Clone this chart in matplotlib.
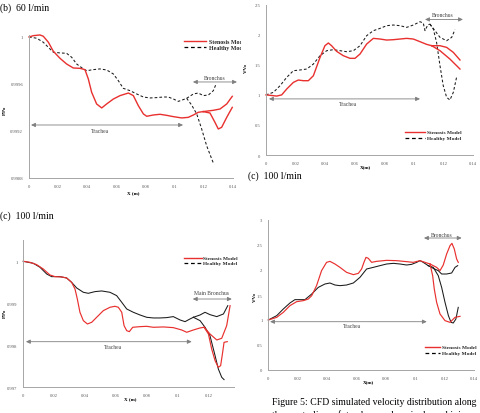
import matplotlib
matplotlib.use("Agg")
import matplotlib.pyplot as plt
from matplotlib.lines import Line2D
from matplotlib.transforms import Bbox

W, H = 480, 414
RED = "#e8302e"
GREY = "#a6a6a6"
TXT = "#595959"
SERIF = ["Liberation Serif", "DejaVu Serif"]

# ---- panel (b) 60 l/min, pressure P/Po ----
A_STEN_X = [0, 0.0030, 0.0075, 0.0098, 0.0133, 0.0167, 0.0213, 0.0258, 0.0304, 0.0350, 0.0384,
            0.0407, 0.0430, 0.0464, 0.0499, 0.0533, 0.0579, 0.0625, 0.0682, 0.0716, 0.0750,
            0.0785, 0.0808, 0.0853, 0.0899, 0.0945, 0.0991, 0.1048, 0.1093, 0.1128, 0.1162, 0.1196]
A_STEN_Y = [1.0, 1.000011, 1.000017, 1.000006, 0.999955, 0.999878, 0.999818, 0.999770, 0.999736,
            0.999733, 0.999722, 0.999643, 0.999529, 0.999430, 0.999396, 0.999430, 0.999472,
            0.999501, 0.999523, 0.999501, 0.999416, 0.999345, 0.999325, 0.999336, 0.999342,
            0.999333, 0.999322, 0.999311, 0.999316, 0.999336, 0.999359, 0.999365]
A_STEN_B1_X = [0.1196, 0.1242, 0.1276, 0.1299, 0.1322, 0.1357, 0.1395]
A_STEN_B1_Y = [0.999365, 0.999353, 0.999274, 0.999217, 0.999231, 0.999316, 0.999401]
A_STEN_B2_X = [0.1196, 0.1265, 0.1311, 0.1357, 0.1395]
A_STEN_B2_Y = [0.999365, 0.999376, 0.999387, 0.999430, 0.999495]

A_HEAL_X = [0, 0.0053, 0.0098, 0.0144, 0.0167, 0.0213, 0.0258, 0.0293, 0.0327, 0.0373, 0.0396,
            0.0442, 0.0487, 0.0533, 0.0579, 0.0613, 0.0647, 0.0693, 0.0739, 0.0785, 0.0830,
            0.0876, 0.0922, 0.0956, 0.0991, 0.1025, 0.1059, 0.1082]
A_HEAL_Y = [1.0, 0.999989, 0.999955, 0.999898, 0.999870, 0.999864, 0.999861, 0.999827, 0.999770,
            0.999728, 0.999713, 0.999722, 0.999728, 0.999719, 0.999685, 0.999628, 0.999563,
            0.999543, 0.999515, 0.999489, 0.999481, 0.999484, 0.999489, 0.999489, 0.999472,
            0.999452, 0.999467, 0.999478]
A_HEAL_B1_X = [0.1082, 0.1128, 0.1162, 0.1196, 0.1231, 0.1265, 0.1281]
A_HEAL_B1_Y = [0.999478, 0.999515, 0.999523, 0.999501, 0.999506, 0.999543, 0.999591]
A_HEAL_B2_X = [0.1082, 0.1116, 0.1151, 0.1185, 0.1219, 0.1254, 0.1265]
A_HEAL_B2_Y = [0.999478, 0.999421, 0.999345, 0.999217, 0.999075, 0.998962, 0.998928]

# ---- top right, velocity V/Vo ----
B_STEN_X = [0, 0.0038, 0.0072, 0.0106, 0.0140, 0.0185, 0.0218, 0.0252, 0.0286, 0.0320, 0.0365,
            0.0398, 0.0421, 0.0443, 0.0477, 0.0522, 0.0567, 0.0601, 0.0635, 0.0680, 0.0725,
            0.0770, 0.0815, 0.0860, 0.0905, 0.0950, 0.0995, 0.1040, 0.1085, 0.1119]
B_STEN_Y = [1.0, 0.99, 0.98, 1.0, 1.098, 1.208, 1.247, 1.236, 1.236, 1.319, 1.624, 1.818, 1.863,
            1.818, 1.724, 1.652, 1.608, 1.608, 1.680, 1.846, 1.940, 1.929, 1.912, 1.918, 1.929,
            1.940, 1.929, 1.885, 1.840, 1.818]
B_STEN_B1_X = [0.1119, 0.1175, 0.1220, 0.1265, 0.1310]
B_STEN_B1_Y = [1.818, 1.818, 1.790, 1.707, 1.580]
B_STEN_B2_X = [0.1119, 0.1175, 0.1242, 0.1310]
B_STEN_B2_Y = [1.818, 1.735, 1.596, 1.430]

B_HEAL_X = [0, 0.0050, 0.0095, 0.0140, 0.0185, 0.0230, 0.0275, 0.0320, 0.0365, 0.0410, 0.0455,
            0.0500, 0.0545, 0.0590, 0.0635, 0.0680, 0.0725, 0.0770, 0.0815, 0.0860, 0.0905,
            0.0950, 0.0995, 0.1040, 0.1062, 0.1074, 0.1092, 0.1107]
B_HEAL_Y = [1.0, 1.042, 1.153, 1.292, 1.402, 1.414, 1.430, 1.513, 1.652, 1.735, 1.752, 1.735,
            1.718, 1.735, 1.818, 1.985, 2.068, 2.106, 2.151, 2.162, 2.151, 2.123, 2.162, 2.217,
            2.195, 2.068, 2.162, 2.178]
B_HEAL_B1_X = [0.1107, 0.1141, 0.1175, 0.1220, 0.1254, 0.1276]
B_HEAL_B1_Y = [2.178, 2.068, 1.957, 1.901, 1.957, 2.084]
B_HEAL_B2_X = [0.1107, 0.1130, 0.1152, 0.1175, 0.1197, 0.1220, 0.1242, 0.1265, 0.1287]
B_HEAL_B2_Y = [2.178, 2.095, 1.874, 1.486, 1.153, 0.959, 0.915, 1.042, 1.292]

# ---- (c) 100 l/min, pressure P/Po ----
C_STEN_X = [0, 0.0043, 0.0086, 0.0129, 0.0172, 0.0205, 0.0248, 0.0280, 0.0312, 0.0334, 0.0349,
            0.0366, 0.0388, 0.0414, 0.0442, 0.0474, 0.0517, 0.0560, 0.0592, 0.0614, 0.0636,
            0.0651, 0.0668, 0.0685, 0.0707, 0.0754, 0.0797, 0.0840, 0.0905, 0.0969, 0.1023,
            0.1056, 0.1099, 0.1142, 0.1168]
C_STEN_Y = [1.0, 0.999976, 0.999921, 0.999817, 0.999675, 0.999635, 0.999627, 0.999603, 0.999500,
            0.999341, 0.999103, 0.998786, 0.998587, 0.998508, 0.998548, 0.998667, 0.998825,
            0.998905, 0.998929, 0.998905, 0.998786, 0.998468, 0.998349, 0.998325, 0.998429,
            0.998444, 0.998452, 0.998429, 0.998437, 0.998421, 0.998365, 0.998310, 0.998365,
            0.998413, 0.998429]
C_STEN_B1_X = [0.1168, 0.1206, 0.1250, 0.1282, 0.1314, 0.1336]
C_STEN_B1_Y = [0.998429, 0.998270, 0.998127, 0.998167, 0.998468, 0.998944]
C_STEN_B2_X = [0.1168, 0.1196, 0.1217, 0.1239, 0.1260, 0.1275, 0.1288, 0.1297, 0.1318]
C_STEN_B2_Y = [0.998429, 0.998270, 0.997913, 0.997635, 0.997476, 0.997516, 0.997833, 0.998071,
               0.998087]

C_HEAL_X = [0, 0.0065, 0.0108, 0.0151, 0.0183, 0.0237, 0.0280, 0.0312, 0.0345, 0.0388, 0.0420,
            0.0463, 0.0506, 0.0560, 0.0603, 0.0636, 0.0668, 0.0711, 0.0754, 0.0797, 0.0840,
            0.0883, 0.0926, 0.0969, 0.1013, 0.1045, 0.1077, 0.1099]
C_HEAL_Y = [1.0, 0.999952, 0.999857, 0.999698, 0.999635, 0.999635, 0.999603, 0.999500, 0.999365,
            0.999262, 0.999238, 0.999278, 0.999294, 0.999262, 0.999183, 0.999024, 0.998865,
            0.998786, 0.998722, 0.998667, 0.998651, 0.998651, 0.998659, 0.998683, 0.998603,
            0.998563, 0.998627, 0.998667]
C_HEAL_B1_X = [0.1099, 0.1142, 0.1174, 0.1206, 0.1250, 0.1293, 0.1321]
C_HEAL_B1_Y = [0.998667, 0.998722, 0.998786, 0.998730, 0.998683, 0.998746, 0.998944]
C_HEAL_B2_X = [0.1099, 0.1142, 0.1174, 0.1206, 0.1239, 0.1260, 0.1282, 0.1297]
C_HEAL_B2_Y = [0.998667, 0.998587, 0.998429, 0.998230, 0.997754, 0.997437, 0.997238, 0.997183]

# ---- bottom right, velocity V/Vo ----
D_STEN_X = [0, 0.0057, 0.0102, 0.0147, 0.0193, 0.0238, 0.0272, 0.0295, 0.0328, 0.0362, 0.0396,
            0.0419, 0.0453, 0.0487, 0.0532, 0.0578, 0.0612, 0.0634, 0.0650, 0.0664, 0.0680,
            0.0702, 0.0736, 0.0804, 0.0872, 0.0940, 0.0985, 0.1031, 0.1065, 0.1099]
D_STEN_Y = [1.0, 1.053, 1.153, 1.287, 1.367, 1.387, 1.420, 1.487, 1.687, 1.987, 2.153, 2.173,
            2.120, 2.053, 1.953, 1.907, 1.933, 2.020, 2.153, 2.253, 2.233, 2.153, 2.173, 2.193,
            2.187, 2.167, 2.153, 2.187, 2.153, 2.120]
D_STEN_B1_X = [0.1099, 0.1144, 0.1167, 0.1189, 0.1212, 0.1235, 0.1248, 0.1264, 0.1280, 0.1291]
D_STEN_B1_Y = [2.120, 2.053, 1.987, 2.100, 2.320, 2.487, 2.533, 2.420, 2.220, 2.153]
D_STEN_B2_X = [0.1099, 0.1117, 0.1128, 0.1144, 0.1167, 0.1201, 0.1235, 0.1269, 0.1303]
D_STEN_B2_Y = [2.120, 1.887, 1.620, 1.353, 1.120, 0.987, 0.953, 1.053, 1.073]

D_HEAL_X = [0, 0.0057, 0.0102, 0.0147, 0.0181, 0.0215, 0.0249, 0.0295, 0.0340, 0.0385, 0.0419,
            0.0453, 0.0487, 0.0532, 0.0578, 0.0623, 0.0668, 0.0714, 0.0759, 0.0804, 0.0850,
            0.0895, 0.0940, 0.0974, 0.1008, 0.1031, 0.1053, 0.1087]
D_HEAL_Y = [1.0, 1.087, 1.220, 1.340, 1.407, 1.407, 1.407, 1.520, 1.653, 1.720, 1.740, 1.700,
            1.687, 1.700, 1.740, 1.853, 2.020, 2.053, 2.087, 2.120, 2.133, 2.120, 2.100, 2.113,
            2.153, 2.187, 2.153, 2.087]
D_HEAL_B1_X = [0.1087, 0.1121, 0.1155, 0.1178, 0.1212, 0.1246, 0.1269, 0.1287]
D_HEAL_B1_Y = [2.087, 2.033, 1.987, 1.920, 1.920, 1.940, 2.053, 2.087]
D_HEAL_B2_X = [0.1087, 0.1121, 0.1155, 0.1178, 0.1201, 0.1224, 0.1242, 0.1257, 0.1275, 0.1291]
D_HEAL_B2_Y = [2.087, 2.053, 1.887, 1.653, 1.353, 1.087, 0.953, 0.940, 1.020, 1.253]

A_XTICKS = [0, 0.02, 0.04, 0.06, 0.08, 0.1, 0.12, 0.14]
A_YTICKS = [0.9988, 0.9992, 0.9996, 1]
B_YTICKS = [0, 0.5, 1, 1.5, 2, 2.5]
C_XTICKS = [0, 0.02, 0.04, 0.06, 0.08, 0.1, 0.12]
C_YTICKS = [0.997, 0.998, 0.999, 1]
D_YTICKS = [0, 0.5, 1, 1.5, 2, 2.5, 3]


def box(left, top, right, bottom):
    return [left / W, 1 - bottom / H, (right - left) / W, (bottom - top) / H]


def fx(px):
    return px / W


def fy(py):
    return 1 - py / H


def fmt(v):
    s = f"{v:.4f}".rstrip("0").rstrip(".")
    return s


def make_axes(fig, rect, xlim, ylim, xticks, yticks):
    ax = fig.add_axes(rect)
    ax.set_xlim(*xlim)
    ax.set_ylim(*ylim)
    for s in ["top", "right"]:
        ax.spines[s].set_visible(False)
    for s in ["left", "bottom"]:
        ax.spines[s].set_color(GREY)
        ax.spines[s].set_linewidth(0.7)
    ax.set_xticks(xticks)
    ax.set_yticks(yticks)
    ax.set_xticklabels([fmt(t) for t in xticks], family=SERIF, fontsize=3.3, color=TXT)
    ax.set_yticklabels([fmt(t) for t in yticks], family=SERIF, fontsize=3.3, color=TXT)
    ax.tick_params(length=0, pad=4.2)
    ax.patch.set_alpha(0)
    return ax


def draw(ax, segs, color, dashed, lw):
    for xs, ys in segs:
        if dashed:
            ax.plot(xs, ys, color=color, lw=lw, dashes=(2.6, 2.0), clip_on=False)
        else:
            ax.plot(xs, ys, color=color, lw=lw, clip_on=False)


def arrow(ax, x0, x1, y, label, tx, ty):
    ax.annotate("", xy=(x1, y), xytext=(x0, y), annotation_clip=False,
                arrowprops=dict(arrowstyle="<|-|>,head_length=0.25,head_width=0.12",
                                color="#7f7f7f", lw=0.6, shrinkA=0, shrinkB=0))
    ax.text(tx, ty, label, family=SERIF, fontsize=4.1, color="#404040",
            ha="center", va="center")


def legend(fig, x0, x1, y_red, y_blk, tx, size=3.9, clip=None):
    fig.add_artist(Line2D([fx(x0), fx(x1)], [fy(y_red), fy(y_red)], color=RED, lw=1.0))
    fig.add_artist(Line2D([fx(x0), fx(x1)], [fy(y_blk), fy(y_blk)], color="black",
                          lw=0.9, dashes=(3.0, 2.2)))
    for y, lab in [(y_red, "Stenosis Model"), (y_blk, "Healthy Model")]:
        t = fig.text(fx(tx), fy(y), lab, family=SERIF, fontsize=size, weight="bold",
                     color="#262626", va="center", ha="left")
        if clip is not None:
            t.set_clip_box(Bbox([[0, 0], [clip, H]]))
            t.set_clip_on(True)


fig = plt.figure(figsize=(W / 100, H / 100), dpi=100)
fig.patch.set_facecolor("white")

# panel (b) 60 l/min pressure
axA = make_axes(fig, box(29, 35.6, 233, 179), (0, 0.14), (0.9988, 1.00002), A_XTICKS, A_YTICKS)
draw(axA, [(A_HEAL_X, A_HEAL_Y), (A_HEAL_B1_X, A_HEAL_B1_Y), (A_HEAL_B2_X, A_HEAL_B2_Y)],
     "#1a1a1a", True, 0.75)
draw(axA, [(A_STEN_X, A_STEN_Y), (A_STEN_B1_X, A_STEN_B1_Y), (A_STEN_B2_X, A_STEN_B2_Y)],
     RED, False, 1.0)
arrow(axA, 0.1125, 0.1427, 0.999617, "Bronchus", 0.1276, 0.999655)
arrow(axA, 0.0014, 0.1057, 0.999251, "Trachea", 0.0487, 0.999205)
legend(fig, 184, 206, 42.3, 48.3, 209, size=4.3, clip=240.5)
fig.text(fx(5), fy(110), "P/Po", family=SERIF, fontsize=3.3, weight="bold",
         rotation=90, ha="center", va="center")
fig.text(fx(133), fy(193.5), "X (m)", family=SERIF, fontsize=3.6, weight="bold",
         ha="center", va="center")
fig.text(0.0, fy(8), "(b)  60 l/min", family=SERIF, fontsize=7, ha="left", va="center")

# top right velocity
axB = make_axes(fig, box(266, 5.7, 473.3, 156), (0, 0.14), (0, 2.5), A_XTICKS, B_YTICKS)
draw(axB, [(B_HEAL_X, B_HEAL_Y), (B_HEAL_B1_X, B_HEAL_B1_Y), (B_HEAL_B2_X, B_HEAL_B2_Y)],
     "#1a1a1a", True, 0.75)
draw(axB, [(B_STEN_X, B_STEN_Y), (B_STEN_B1_X, B_STEN_B1_Y), (B_STEN_B2_X, B_STEN_B2_Y)],
     RED, False, 1.0)
arrow(axB, 0.1074, 0.1330, 2.255, "Bronchus", 0.1195, 2.34)
arrow(axB, 0.0020, 0.1040, 0.933, "Trachea", 0.0554, 0.855)
legend(fig, 405, 425, 133.3, 138.6, 427)
fig.text(fx(246), fy(68), "V/Vo", family=SERIF, fontsize=3.3, weight="bold",
         rotation=90, ha="center", va="center")
fig.text(fx(365), fy(167.5), "X(m)", family=SERIF, fontsize=3.6, weight="bold",
         ha="center", va="center")
fig.text(fx(248), fy(176), "(c)  100 l/min", family=SERIF, fontsize=7, ha="left", va="center")

# panel (c) 100 l/min pressure
axC = make_axes(fig, box(23.3, 241.3, 233.8, 388.3), (0, 0.136), (0.997, 1.0005),
                C_XTICKS, C_YTICKS)
draw(axC, [(C_HEAL_X, C_HEAL_Y), (C_HEAL_B1_X, C_HEAL_B1_Y), (C_HEAL_B2_X, C_HEAL_B2_Y)],
     "#1a1a1a", False, 0.75)
draw(axC, [(C_STEN_X, C_STEN_Y), (C_STEN_B1_X, C_STEN_B1_Y), (C_STEN_B2_X, C_STEN_B2_Y)],
     RED, False, 0.85)
arrow(axC, 0.1095, 0.1347, 0.999102, "Main Bronchus", 0.1219, 0.99925)
arrow(axC, 0.0017, 0.1088, 0.998086, "Trachea", 0.0580, 0.99797)
legend(fig, 184.3, 201.7, 259, 264.3, 203.3)
fig.text(fx(4.7), fy(313), "P/Po", family=SERIF, fontsize=3.3, weight="bold",
         rotation=90, ha="center", va="center")
fig.text(fx(130), fy(399), "X (m)", family=SERIF, fontsize=3.6, weight="bold",
         ha="center", va="center")
fig.text(0.0, fy(216), "(c)  100 l/min", family=SERIF, fontsize=7, ha="left", va="center")

# bottom right velocity
axD = make_axes(fig, box(268.3, 221, 474.3, 371), (0, 0.14), (0, 3), A_XTICKS, D_YTICKS)
draw(axD, [(D_HEAL_X, D_HEAL_Y), (D_HEAL_B1_X, D_HEAL_B1_Y), (D_HEAL_B2_X, D_HEAL_B2_Y)],
     "#1a1a1a", False, 0.75)
draw(axD, [(D_STEN_X, D_STEN_Y), (D_STEN_B1_X, D_STEN_B1_Y), (D_STEN_B2_X, D_STEN_B2_Y)],
     RED, False, 0.85)
arrow(axD, 0.1058, 0.1314, 2.64, "Bronchus", 0.1178, 2.71)
arrow(axD, 0.0012, 0.1077, 0.966, "Trachea", 0.0567, 0.88)
legend(fig, 425, 440, 348.3, 354, 441.7)
fig.text(fx(255), fy(296.7), "V/Vo", family=SERIF, fontsize=3.3, weight="bold",
         rotation=90, ha="center", va="center")
fig.text(fx(368), fy(382), "X(m)", family=SERIF, fontsize=3.6, weight="bold",
         ha="center", va="center")

# caption (the second line is cut by the bottom edge, as in the source page)
fig.text(fx(271.7), fy(402.7), "Figure 5: CFD simulated velocity distribution along",
         family=SERIF, fontsize=7, ha="left", va="center")
fig.text(fx(271.7), fy(416), "the  centerline  of  trachea  and  main  bronchi  in",
         family=SERIF, fontsize=7, ha="left", va="center")

fig.savefig("out.png", dpi=100, facecolor="white")
